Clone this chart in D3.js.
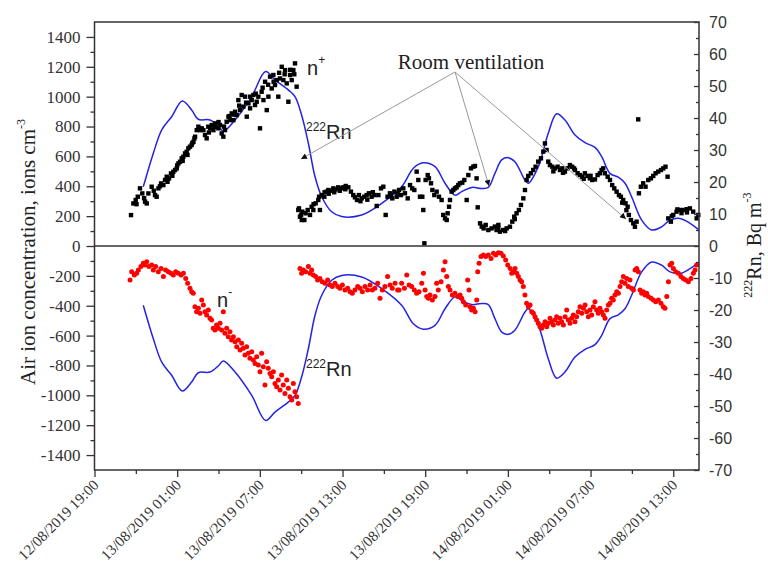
<!DOCTYPE html>
<html>
<head>
<meta charset="utf-8">
<script src="https://cdn.jsdelivr.net/npm/d3@7"></script>
<style>
  body { margin: 0; background: #fff; }
  svg { display: block; }
</style>
</head>
<body>
<div id="chart"></div>
<script>
// hours are counted from 13/08/2019 00:00
const baseTime = "13/08/2019 00:00";
const xStart = "12/08/2019 19:00";
const xEndHours = 38.87;

const xTickLabels = ["12/08/2019 19:00", "13/08/2019 01:00", "13/08/2019 07:00", "13/08/2019 13:00",
    "13/08/2019 19:00", "14/08/2019 01:00", "14/08/2019 07:00", "14/08/2019 13:00"];
const leftTicks = [1400, 1200, 1000, 800, 600, 400, 200, 0, -200, -400, -600, -800, -1000, -1200, -1400];
const rightTicks = [70, 60, 50, 40, 30, 20, 10, 0, -10, -20, -30, -40, -50, -60, -70];

// 222Rn, Bq m-3  [hour, value]
const radon = [[-1.46,18.5],[-0.73,29],[-0.12,36.3],[0.60,40.4],[1.37,45.3],[2.05,42.5],[2.53,39.6],
    [3.38,39.4],[3.98,37.5],[4.35,35.9],[5.20,39.4],[6.41,46.7],[7.42,54.5],[8.10,51.9],[9.06,48.8],
    [9.55,46.7],[10.04,40.8],[10.52,32.1],[11.00,21.7],[11.49,15.4],[12.21,10.7],[12.94,9.2],[14.39,9.7],
    [15.84,13.3],[17.29,18.5],[18.14,24.3],[18.86,26],[19.71,24.8],[20.44,19.6],[21.16,15.9],[21.65,17],
    [22.37,18.3],[23.10,18],[23.58,18.3],[24.06,22.7],[24.55,26.9],[25.03,27.6],[25.51,26.3],[26.24,20.6],
    [26.48,19.6],[27.21,24.8],[27.93,35.2],[28.54,41.3],[29.14,39.4],[29.87,34.7],[30.60,32.3],[31.32,30.8],
    [31.81,27.9],[32.41,22.7],[33.01,21.5],[33.50,19.6],[33.98,15.4],[34.71,8.1],[35.44,5],[36.16,6],
    [36.77,8.1],[37.49,8.6],[38.22,7.1],[38.82,5.2]];

// n+ positive ions, ions cm-3  [hour, value]
const posIons = [[-2.35,207],[-2.18,285],[-2.01,308],[-1.95,280],[-1.86,330],[-1.70,386],[-1.53,352],
    [-1.40,320],[-1.33,297],[-1.21,285],[-1.09,352],[-0.85,397],[-0.70,370],[-0.61,341],[-0.49,330],
    [-0.36,386],[-0.25,400],[-0.17,419],[0.00,408],[0.12,442],[0.24,464],[0.30,430],[0.41,453],[0.55,486],
    [0.65,470],[0.72,497],[0.85,509],[0.97,520],[1.00,540],[1.09,553],[1.21,564],[1.33,587],[1.40,570],
    [1.45,598],[1.57,620],[1.69,631],[1.75,610],[1.81,654],[1.93,665],[2.05,676],[2.10,690],[2.18,698],
    [2.25,720],[2.30,732],[2.42,776],[2.54,799],[2.66,776],[2.78,788],[2.90,776],[3.02,743],[3.14,721],
    [3.26,799],[3.30,760],[3.39,788],[3.51,810],[3.63,776],[3.70,800],[3.75,821],[3.87,799],[3.99,788],
    [4.00,830],[4.11,810],[4.23,754],[4.35,732],[4.40,800],[4.47,776],[4.59,832],[4.72,866],[4.80,870],
    [4.84,843],[4.96,888],[5.08,843],[5.10,880],[5.20,899],[5.32,877],[5.44,977],[5.50,940],[5.56,910],
    [5.68,1011],[5.80,933],[5.93,1000],[6.00,960],[6.05,866],[6.17,955],[6.29,922],[6.30,1000],[6.41,977],
    [6.53,1011],[6.65,944],[6.70,1020],[6.77,966],[6.89,1000],[7.01,788],[7.13,1033],[7.20,1060],
    [7.26,977],[7.38,1100],[7.50,910],[7.60,1080],[7.62,1000],[7.74,1134],[7.86,1055],[7.98,1145],
    [8.00,1100],[8.10,1078],[8.22,1111],[8.34,1000],[8.40,1160],[8.46,1122],[8.59,1200],[8.71,1111],
    [8.80,1150],[8.83,1178],[8.95,1089],[9.07,966],[9.19,1145],[9.20,1180],[9.31,1111],[9.43,1178],
    [9.50,1150],[9.55,1223],[9.67,1067],[9.79,241],[9.84,252],[9.91,196],[9.99,208],[10.04,174],
    [10.08,230],[10.23,174],[10.32,219],[10.47,241],[10.64,208],[10.76,263],[10.88,241],[10.90,280],
    [11.05,286],[11.24,308],[11.30,330],[11.36,241],[11.49,341],[11.68,330],[11.70,360],[11.85,364],
    [11.97,375],[12.00,350],[12.16,370],[12.33,386],[12.40,360],[12.50,379],[12.69,393],[12.80,370],
    [12.89,386],[13.06,393],[13.20,380],[13.23,402],[13.42,393],[13.61,364],[13.78,341],[13.90,326],
    [14.05,308],[14.19,341],[14.30,300],[14.39,319],[14.58,330],[14.75,341],[14.80,310],[14.92,353],
    [15.11,330],[15.20,360],[15.31,341],[15.48,268],[15.60,341],[15.79,386],[15.96,397],[16.13,208],
    [16.27,330],[16.44,353],[16.50,340],[16.61,319],[16.76,364],[16.93,330],[17.00,350],[17.10,375],
    [17.24,341],[17.41,386],[17.53,353],[17.73,319],[17.90,408],[18.06,386],[18.21,375],[18.38,498],
    [18.50,442],[18.62,330],[18.79,330],[18.86,241],[18.94,18],[19.03,442],[19.18,475],[19.27,453],
    [19.42,420],[19.52,375],[19.66,341],[19.83,364],[20.00,330],[20.19,308],[20.31,208],[20.44,185],
    [20.56,174],[20.63,219],[20.73,263],[20.80,308],[20.92,364],[21.04,375],[21.16,386],[21.28,393],
    [21.40,408],[21.52,420],[21.69,424],[21.84,442],[22.01,308],[22.13,475],[22.32,520],[22.49,531],
    [22.61,536],[22.73,453],[22.81,259],[22.98,152],[23.10,130],[23.24,118],[23.39,141],[23.58,107],
    [23.82,118],[24.06,130],[24.18,107],[24.30,120],[24.31,141],[24.42,96],[24.66,107],[24.80,100],
    [24.91,118],[25.15,129],[25.32,163],[25.46,196],[25.50,180],[25.63,219],[25.80,241],[25.95,275],
    [26.12,319],[26.24,375],[26.36,442],[26.48,469],[26.67,487],[26.84,509],[27.01,531],[27.20,565],
    [27.40,587],[27.57,632],[27.69,687],[27.81,643],[27.93,565],[28.05,542],[28.22,531],[28.30,500],
    [28.41,520],[28.61,531],[28.78,509],[28.95,520],[29.00,490],[29.14,498],[29.33,520],[29.50,542],
    [29.67,531],[29.80,520],[29.87,509],[30.06,487],[30.23,475],[30.40,464],[30.50,450],[30.59,487],
    [30.78,469],[30.95,453],[31.00,470],[31.12,442],[31.32,446],[31.51,475],[31.68,487],[31.80,509],
    [31.92,520],[32.04,487],[32.24,464],[32.41,442],[32.57,408],[32.72,386],[32.89,364],[33.06,341],
    [33.20,330],[33.30,290],[33.37,308],[33.54,286],[33.60,240],[33.69,263],[33.78,208],[33.93,174],
    [34.10,152],[34.22,129],[34.34,163],[34.46,848],[34.51,353],[34.65,397],[34.82,420],[34.99,397],
    [35.19,442],[35.38,453],[35.55,469],[35.72,487],[35.91,498],[36.11,509],[36.28,520],[36.44,531],
    [36.59,464],[36.64,185],[36.83,163],[36.90,200],[37.00,208],[37.24,230],[37.30,245],[37.49,241],
    [37.60,220],[37.73,241],[37.97,246],[38.00,225],[38.21,252],[38.45,230],[38.70,185],[38.82,208]];

// n- negative ions, ions cm-3  [hour, value]
const negIons = [[-2.42,-228],[-2.30,-172],[-2.11,-194],[-1.94,-183],[-1.82,-161],[-1.63,-138],
    [-1.46,-116],[-1.33,-127],[-1.21,-105],[-1.05,-138],[-0.85,-127],[-0.73,-161],[-0.56,-138],
    [-0.37,-172],[-0.17,-150],[0.00,-205],[0.16,-161],[0.36,-172],[0.55,-183],[0.72,-194],[0.89,-172],
    [1.08,-183],[1.28,-194],[1.45,-183],[1.62,-217],[1.76,-250],[1.93,-283],[2.05,-306],[2.17,-317],
    [2.29,-406],[2.41,-440],[2.54,-417],[2.66,-451],[2.78,-362],[2.90,-395],[3.02,-440],[3.14,-462],
    [3.26,-429],[3.38,-484],[3.50,-496],[3.62,-551],[3.74,-562],[3.86,-529],[3.99,-551],[4.11,-518],
    [4.23,-562],[4.35,-440],[4.47,-585],[4.59,-551],[4.71,-607],[4.83,-574],[4.95,-629],[5.08,-607],
    [5.20,-641],[5.32,-674],[5.44,-629],[5.56,-696],[5.68,-652],[5.80,-685],[5.92,-730],[6.04,-674],
    [6.16,-719],[6.28,-752],[6.41,-708],[6.53,-763],[6.65,-786],[6.77,-741],[6.89,-797],[7.01,-842],
    [7.13,-719],[7.25,-808],[7.37,-931],[7.49,-775],[7.61,-819],[7.74,-853],[7.86,-875],[7.98,-842],
    [8.10,-920],[8.22,-942],[8.34,-897],[8.46,-964],[8.58,-864],[8.70,-931],[8.82,-987],[8.95,-897],
    [9.07,-953],[9.19,-1009],[9.31,-1031],[9.43,-920],[9.55,-976],[9.67,-1009],[9.79,-1054],
    [9.91,-150],[10.03,-183],[10.15,-161],[10.32,-172],[10.52,-138],[10.64,-183],[10.76,-161],
    [10.88,-194],[11.05,-205],[11.19,-228],[11.36,-217],[11.53,-239],[11.73,-250],[11.92,-228],
    [12.09,-261],[12.26,-272],[12.45,-250],[12.65,-272],[12.81,-283],[12.99,-261],[13.18,-295],
    [13.37,-283],[13.54,-306],[13.71,-317],[13.90,-295],[14.10,-272],[14.27,-283],[14.44,-306],
    [14.63,-272],[14.82,-295],[15.00,-261],[15.16,-295],[15.35,-283],[15.55,-250],[15.72,-350],
    [15.89,-295],[16.08,-272],[16.27,-205],[16.45,-261],[16.61,-283],[16.81,-250],[17.00,-295],
    [17.10,-295],[17.29,-250],[17.49,-283],[17.66,-194],[17.83,-261],[18.02,-272],[18.21,-295],
    [18.38,-317],[18.55,-306],[18.75,-250],[18.87,-183],[18.99,-295],[19.11,-339],[19.23,-350],
    [19.35,-328],[19.52,-362],[19.71,-339],[19.83,-250],[19.95,-295],[20.15,-239],[20.32,-161],
    [20.44,-105],[20.56,-205],[20.68,-272],[20.80,-295],[20.97,-328],[21.16,-317],[21.36,-339],
    [21.53,-328],[21.65,-350],[21.77,-373],[21.94,-395],[22.08,-228],[22.18,-295],[22.25,-406],
    [22.37,-429],[22.50,-417],[22.62,-440],[22.74,-362],[22.81,-172],[22.91,-116],[23.05,-71],
    [23.22,-60],[23.39,-71],[23.58,-60],[23.78,-83],[23.95,-49],[24.12,-60],[24.31,-45],[24.50,-49],
    [24.67,-67],[24.84,-94],[24.99,-127],[25.16,-150],[25.28,-183],[25.40,-172],[25.52,-150],
    [25.64,-183],[25.76,-205],[25.88,-228],[26.00,-239],[26.12,-272],[26.24,-328],[26.36,-384],
    [26.49,-406],[26.61,-395],[26.73,-440],[26.85,-451],[26.97,-473],[27.09,-496],[27.21,-518],
    [27.33,-540],[27.45,-551],[27.57,-529],[27.70,-507],[27.82,-540],[27.94,-518],[28.06,-484],
    [28.18,-507],[28.30,-529],[28.42,-496],[28.54,-473],[28.66,-518],[28.78,-484],[28.90,-507],
    [29.03,-529],[29.15,-473],[29.27,-429],[29.39,-496],[29.51,-518],[29.63,-484],[29.75,-462],
    [29.87,-507],[29.99,-473],[30.11,-440],[30.23,-406],[30.36,-451],[30.48,-417],[30.60,-395],
    [30.72,-440],[30.84,-473],[30.96,-429],[31.08,-462],[31.20,-406],[31.32,-373],[31.44,-429],
    [31.56,-451],[31.68,-417],[31.81,-440],[31.93,-462],[32.05,-484],[32.17,-429],[32.29,-395],
    [32.41,-384],[32.53,-350],[32.65,-362],[32.77,-328],[32.90,-306],[33.02,-317],[33.14,-272],
    [33.26,-239],[33.38,-205],[33.50,-250],[33.62,-217],[33.74,-272],[33.86,-228],[33.98,-283],
    [34.11,-295],[34.23,-161],[34.35,-150],[34.47,-172],[34.59,-295],[34.71,-317],[34.83,-306],
    [34.95,-328],[35.07,-317],[35.19,-339],[35.39,-350],[35.56,-362],[35.73,-373],[35.92,-362],
    [36.11,-384],[36.28,-406],[36.40,-417],[36.53,-339],[36.65,-239],[36.77,-127],[36.89,-116],
    [37.01,-150],[37.18,-172],[37.37,-183],[37.56,-205],[37.73,-217],[37.90,-228],[38.10,-239],
    [38.29,-217],[38.46,-183],[38.58,-161],[38.70,-127]];

const width = 768, height = 562;
const plot = { left: 94.5, right: 699, top: 22, bottom: 470 };
const serifFont = "'Liberation Serif', 'Times New Roman', serif";
const sansFont = "'Liberation Sans', Arial, sans-serif";

const parse = d3.timeParse("%d/%m/%Y %H:%M");
const base = parse(baseTime);
const toDate = h => new Date(base.getTime() + h * 3600e3);

const x = d3.scaleTime()
    .domain([parse(xStart), toDate(xEndHours)])
    .range([plot.left, plot.right]);
const yLeft = d3.scaleLinear().domain([-1500, 1500]).range([plot.bottom, plot.top]);
const yRight = d3.scaleLinear().domain([-70, 70]).range([plot.bottom, plot.top]);

const svg = d3.select("#chart").append("svg")
    .attr("width", width)
    .attr("height", height);

svg.append("rect").attr("width", width).attr("height", height).attr("fill", "#fff");

// data marks
const marks = svg.append("g");

const radonLine = d3.line()
    .x(d => x(toDate(d[0])))
    .y(d => yRight(d[1]))
    .curve(d3.curveCatmullRom.alpha(0.5));

marks.append("path")
    .datum(radon)
    .attr("d", radonLine)
    .attr("fill", "none")
    .attr("stroke", "#2323e6")
    .attr("stroke-width", 1.5);

marks.append("path")
    .datum(radon.map(d => [d[0], -d[1]]))
    .attr("d", radonLine)
    .attr("fill", "none")
    .attr("stroke", "#2323e6")
    .attr("stroke-width", 1.5);

marks.selectAll("rect.pos")
    .data(posIons)
    .enter().append("rect")
    .attr("class", "pos")
    .attr("x", d => x(toDate(d[0])) - 2.2)
    .attr("y", d => yLeft(d[1]) - 2.2)
    .attr("width", 4.4)
    .attr("height", 4.4)
    .attr("fill", "#000");

marks.selectAll("circle.neg")
    .data(negIons)
    .enter().append("circle")
    .attr("class", "neg")
    .attr("cx", d => x(toDate(d[0])))
    .attr("cy", d => yLeft(d[1]))
    .attr("r", 2.5)
    .attr("fill", "#f00");

// frame and zero line
svg.append("rect")
    .attr("x", plot.left).attr("y", plot.top)
    .attr("width", plot.right - plot.left).attr("height", plot.bottom - plot.top)
    .attr("fill", "none").attr("stroke", "#333").attr("stroke-width", 1.5);

svg.append("line")
    .attr("x1", plot.left).attr("x2", plot.right)
    .attr("y1", yLeft(0)).attr("y2", yLeft(0))
    .attr("stroke", "#333").attr("stroke-width", 1.5);

// left axis
const leftAxis = svg.append("g")
    .attr("transform", `translate(${plot.left},0)`)
    .call(d3.axisLeft(yLeft).tickValues(leftTicks).tickSize(8).tickPadding(6).tickFormat(d => String(d)));
leftAxis.append("g")
    .call(d3.axisLeft(yLeft).tickValues(d3.range(-1300, 1400, 200)).tickSize(4).tickFormat(""));
leftAxis.selectAll(".domain").remove();
leftAxis.selectAll("line").attr("stroke", "#333").attr("stroke-width", 1.3);
leftAxis.attr("font-family", serifFont).attr("font-size", 17);
leftAxis.selectAll("text").attr("fill", "#333");

// right axis, ticks point inwards
const rightAxis = svg.append("g")
    .attr("transform", `translate(${plot.right},0)`)
    .call(d3.axisRight(yRight).tickValues(rightTicks).tickSize(-5).tickPadding(10).tickFormat(d => String(d)));
rightAxis.append("g")
    .call(d3.axisRight(yRight).tickValues(d3.range(-65, 70, 10)).tickSize(-3).tickFormat(""));
rightAxis.selectAll(".domain").remove();
rightAxis.selectAll("line").attr("stroke", "#333").attr("stroke-width", 1.3);
rightAxis.attr("font-family", sansFont).attr("font-size", 16);
rightAxis.selectAll("text").attr("fill", "#333");

// bottom axis with rotated labels
const xTicks = xTickLabels.map(parse);
const xMinor = xTicks.map(d => d3.timeHour.offset(d, 3)).filter(d => d < x.domain()[1]);
const bottomAxis = svg.append("g")
    .attr("transform", `translate(0,${plot.bottom})`)
    .call(d3.axisBottom(x).tickValues(xTicks).tickSize(7).tickFormat(""));
bottomAxis.append("g")
    .call(d3.axisBottom(x).tickValues(xMinor).tickSize(4).tickFormat(""));
bottomAxis.selectAll(".domain").remove();
bottomAxis.selectAll("line").attr("stroke", "#333").attr("stroke-width", 1.3);

svg.append("g").selectAll("text")
    .data(xTicks)
    .enter().append("text")
    .attr("transform", d => `translate(${x(d) + 5},${plot.bottom + 16}) rotate(-45)`)
    .attr("text-anchor", "end")
    .attr("font-family", serifFont)
    .attr("font-size", 15)
    .attr("fill", "#333")
    .text((d, i) => xTickLabels[i]);

// axis titles
const leftTitle = svg.append("text")
    .attr("transform", "translate(35,252) rotate(-90)")
    .attr("text-anchor", "middle")
    .attr("font-family", serifFont)
    .attr("font-size", 21)
    .attr("fill", "#222");
leftTitle.append("tspan").text("Air ion concentration, ions cm");
leftTitle.append("tspan").attr("dy", -10).attr("font-size", 12).text("-3");

const rightTitle = svg.append("text")
    .attr("transform", "translate(761,245) rotate(-90)")
    .attr("text-anchor", "middle")
    .attr("font-family", serifFont)
    .attr("font-size", 20)
    .attr("fill", "#222");
rightTitle.append("tspan").attr("dy", -9).attr("font-size", 12).text("222");
rightTitle.append("tspan").attr("dy", 9).text("Rn, Bq m");
rightTitle.append("tspan").attr("dy", -10).attr("font-size", 12).text("-3");

// labels in the plot
function supLabel(px, py, main, sup, supFirst) {
    const t = svg.append("text")
        .attr("x", px).attr("y", py)
        .attr("font-family", sansFont)
        .attr("font-size", 20).attr("fill", "#222");
    if (supFirst) {
        t.append("tspan").attr("dy", -8).attr("font-size", 12).text(sup);
        t.append("tspan").attr("dy", 8).text(main);
    } else {
        t.append("tspan").text(main);
        t.append("tspan").attr("dy", -11).attr("font-size", 12).text(sup);
    }
}
supLabel(307, 75, "n", "+", false);
supLabel(217, 307, "n", "-", false);
supLabel(306, 139, "Rn", "222", true);
supLabel(306, 376, "Rn", "222", true);

// room ventilation annotation
svg.append("defs").append("marker")
    .attr("id", "arrow")
    .attr("viewBox", "0 0 10 10")
    .attr("refX", 10).attr("refY", 5)
    .attr("markerWidth", 9).attr("markerHeight", 6)
    .attr("orient", "auto")
    .attr("markerUnits", "userSpaceOnUse")
    .append("path").attr("d", "M0,0L10,5L0,10z").attr("fill", "#111");

const ventFrom = [455, 72];
const ventTo = [[301, 159], [489, 186], [626, 219]];
svg.append("g").selectAll("line")
    .data(ventTo)
    .enter().append("line")
    .attr("x1", ventFrom[0]).attr("y1", ventFrom[1])
    .attr("x2", d => d[0]).attr("y2", d => d[1])
    .attr("stroke", "#999").attr("stroke-width", 1)
    .attr("marker-end", "url(#arrow)");

svg.append("text")
    .attr("x", 471).attr("y", 69)
    .attr("text-anchor", "middle")
    .attr("font-family", serifFont)
    .attr("font-size", 21)
    .attr("fill", "#222")
    .text("Room ventilation");
</script>
</body>
</html>
